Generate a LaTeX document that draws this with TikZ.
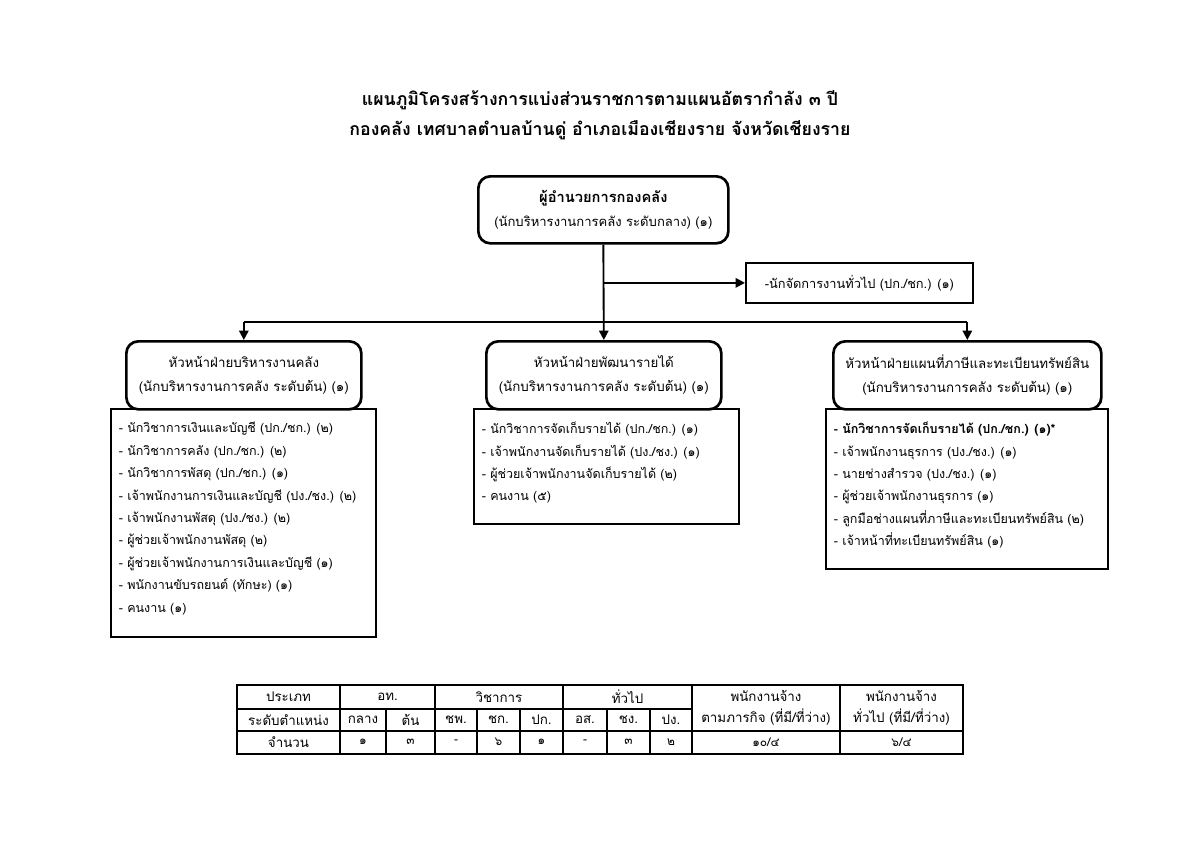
\documentclass[tikz,border=0pt]{standalone}
\usepackage{fontspec}
\setmainfont[Script=Thai]{Loma}
\usetikzlibrary{arrows.meta}
\begin{document}
\begin{tikzpicture}[x=0.75pt,y=-0.75pt,
  titletext/.style={font=\fontsize{13.3}{16}\selectfont\bfseries,inner sep=0pt},
  rbox/.style={draw,line width=2pt,rounded corners=9pt,anchor=north west,inner sep=0pt,align=center,font=\fontsize{10}{18}\selectfont},
  sbox/.style={draw,line width=1.3pt,anchor=north west,inner sep=0pt,font=\fontsize{9.6}{14}\selectfont},
  lbox/.style={draw,line width=1.3pt,anchor=north west,inner xsep=6pt,inner ysep=0pt,font=\fontsize{9.4}{16.8}\selectfont},
  conn/.style={line width=1.4pt},
  arr/.style={conn,-{Triangle[length=7pt,width=7pt]}},
  tline/.style={line width=0.9pt},
  tcell/.style={inner sep=0pt,font=\fontsize{10}{14}\selectfont,align=center},
  tnum/.style={inner sep=0pt,font=\fontsize{9}{12}\selectfont}]
\useasboundingbox (0,0) rectangle (1200,849);

% title
\node[titletext] (t1) at (600,100) {แผนภูมิโครงสร้างการแบ่งส่วนราชการตามแผนอัตรากำลัง ๓ ปี};
\node[titletext] (t2) at (600,130) {กองคลัง เทศบาลตำบลบ้านดู่ อำเภอเมืองเชียงราย จังหวัดเชียงราย};

% boxes
\node[rbox,minimum width=187.5pt,minimum height=50.25pt] (top) at (477,175)
  {{\fontsize{11}{18}\selectfont\bfseries ผู้อำนวยการกองคลัง}\\{\fontsize{9.8}{12}\selectfont(นักบริหารงานการคลัง ระดับกลาง) (๑)}};
\node[sbox,minimum width=170.25pt,minimum height=30pt] (gen) at (745,262)
  {-นักจัดการงานทั่วไป (ปก./ชก.) (๑)};

\node[rbox,minimum width=176.25pt,minimum height=51pt] (hl) at (125,340)
  {หัวหน้าฝ่ายบริหารงานคลัง\\(นักบริหารงานการคลัง ระดับต้น) (๑)};
\node[rbox,minimum width=176.25pt,minimum height=51pt] (hm) at (485,340)
  {หัวหน้าฝ่ายพัฒนารายได้\\(นักบริหารงานการคลัง ระดับต้น) (๑)};
\node[rbox,minimum width=201pt,minimum height=51pt] (hr) at (832,340)
  {หัวหน้าฝ่ายแผนที่ภาษีและทะเบียนทรัพย์สิน\\(นักบริหารงานการคลัง ระดับต้น) (๑)};

\node[lbox] (ll) at (110,408) {\parbox[c][171pt][t]{186.75pt}{\raggedright\vspace{10pt}%
- นักวิชาการเงินและบัญชี (ปก./ชก.) (๒)\\
- นักวิชาการคลัง (ปก./ชก.) (๒)\\
- นักวิชาการพัสดุ (ปก./ชก.) (๑)\\
\mbox{- เจ้าพนักงานการเงินและบัญชี (ปง./ชง.) (๒)}\\
- เจ้าพนักงานพัสดุ (ปง./ชง.) (๒)\\
- ผู้ช่วยเจ้าพนักงานพัสดุ (๒)\\
- ผู้ช่วยเจ้าพนักงานการเงินและบัญชี (๑)\\
- พนักงานขับรถยนต์ (ทักษะ) (๑)\\
- คนงาน (๑)}};
\node[lbox] (lm) at (473,408) {\parbox[c][86.25pt][t]{186.75pt}{\raggedright\vspace{10pt}%
- นักวิชาการจัดเก็บรายได้ (ปก./ชก.) (๑)\\
- เจ้าพนักงานจัดเก็บรายได้ (ปง./ชง.) (๑)\\
- ผู้ช่วยเจ้าพนักงานจัดเก็บรายได้ (๒)\\
- คนงาน (๕)}};
\node[lbox] (lr) at (825,408) {\parbox[c][120pt][t]{199.5pt}{\raggedright\vspace{10pt}%
\mbox{\bfseries - นักวิชาการจัดเก็บรายได้ (ปก./ชก.) (๑)*}\\
- เจ้าพนักงานธุรการ (ปง./ชง.) (๑)\\
- นายช่างสำรวจ (ปง./ชง.) (๑)\\
- ผู้ช่วยเจ้าพนักงานธุรการ (๑)\\
\mbox{- ลูกมือช่างแผนที่ภาษีและทะเบียนทรัพย์สิน (๒)}\\
- เจ้าหน้าที่ทะเบียนทรัพย์สิน (๑)}};

% connectors
\draw[arr] (top.south) -- (hm.north);
\coordinate (brg) at (top.south |- gen.west);
\draw[arr] (brg) -- (gen.west);
\coordinate (bar) at (601,322);
\draw[conn] (hl.north |- bar) -- (hr.north |- bar);
\draw[arr] (hl.north |- bar) -- (hl.north);
\draw[arr] (hr.north |- bar) -- (hr.north);

% table
\draw[tline] (237,685) rectangle (963,754);
\draw[tline] (237,709) -- (692,709);
\draw[tline] (237,731) -- (963,731);
\foreach \x in {340,435,563,692,840} \draw[tline] (\x,685) -- (\x,754);
\foreach \x in {386,477,520,607,650} \draw[tline] (\x,709) -- (\x,754);

\node[tcell] (c11) at (288.5,697) {ประเภท};
\node[tcell] (c12) at (387.5,697) {อท.};
\node[tcell] (c13) at (499,697) {วิชาการ};
\node[tcell] (c14) at (627.5,697) {ทั่วไป};
\node[tcell,font=\fontsize{10}{16}\selectfont] (c15) at (766,708) {พนักงานจ้าง\\ตามภารกิจ (ที่มี/ที่ว่าง)};
\node[tcell,font=\fontsize{10}{16}\selectfont] (c16) at (901.5,708) {พนักงานจ้าง\\ทั่วไป (ที่มี/ที่ว่าง)};

\node[tcell] (c21) at (288.5,720) {ระดับตำแหน่ง};
\node[tcell] (c22) at (363,720) {กลาง};
\node[tcell] (c23) at (410.5,720) {ต้น};
\node[tcell] (c24) at (456,720) {ชพ.};
\node[tcell] (c25) at (498.5,720) {ชก.};
\node[tcell] (c26) at (541.5,720) {ปก.};
\node[tcell] (c27) at (585,720) {อส.};
\node[tcell] (c28) at (628.5,720) {ชง.};
\node[tcell] (c29) at (671,720) {ปง.};

\node[tcell] (c31) at (288.5,742) {จำนวน};
\node[tnum] (c32) at (363,742) {๑};
\node[tnum] (c33) at (410.5,742) {๓};
\node[tnum] (c34) at (456,742) {-};
\node[tnum] (c35) at (498.5,742) {๖};
\node[tnum] (c36) at (541.5,742) {๑};
\node[tnum] (c37) at (585,742) {-};
\node[tnum] (c38) at (628.5,742) {๓};
\node[tnum] (c39) at (671,742) {๒};
\node[tnum] (c3a) at (766,742) {๑๐/๔};
\node[tnum] (c3b) at (901.5,742) {๖/๔};
\end{tikzpicture}
\end{document}
